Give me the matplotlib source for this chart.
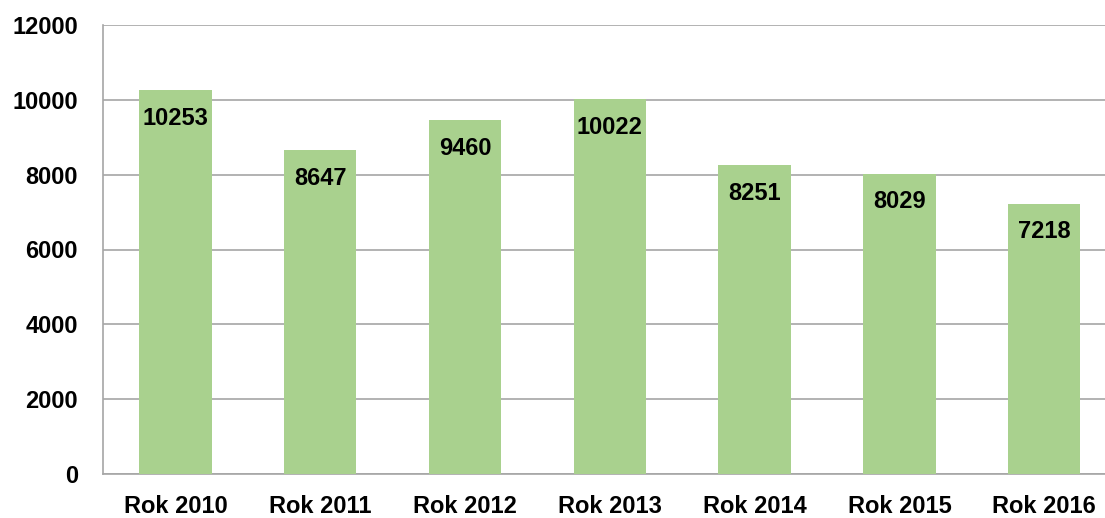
import matplotlib
matplotlib.use("Agg")
import matplotlib.pyplot as plt

categories = ["Rok 2010", "Rok 2011", "Rok 2012", "Rok 2013", "Rok 2014", "Rok 2015", "Rok 2016"]
values = [10253, 8647, 9460, 10022, 8251, 8029, 7218]
yticks = [0, 2000, 4000, 6000, 8000, 10000, 12000]

plt.rcParams['font.family'] = ['Liberation Sans', 'DejaVu Sans']

fig = plt.figure(figsize=(11.05, 5.18), dpi=100)
ax = fig.add_axes([103/1105, 44/518, 1 - 103/1105, (474-25)/518])

x = list(range(len(categories)))
bars = ax.bar(x, values, width=0.5, color="#A9D18E", zorder=3)

ax.set_xlim(-0.5, 6.42)
ax.set_ylim(0, 12000)
ax.set_yticks(yticks)
ax.set_yticklabels([str(t) for t in yticks], fontsize=17, fontweight='bold')
ax.set_xticks(x)
ax.set_xticklabels(categories, fontsize=17, fontweight='bold')
ax.tick_params(axis='both', length=0)
ax.tick_params(axis='y', pad=18)
ax.tick_params(axis='x', pad=15)

ax.yaxis.grid(True, color="#A6A6A6", linewidth=1.2, zorder=0)
for s in ['top', 'right']:
    ax.spines[s].set_visible(False)
for s in ['left', 'bottom']:
    ax.spines[s].set_color("#A6A6A6")
    ax.spines[s].set_linewidth(1.2)

for xi, v in zip(x, values):
    ax.annotate(str(v), xy=(xi, v), xytext=(0, -28), textcoords='offset pixels',
                ha='center', va='center', fontsize=17, fontweight='bold', color='black', zorder=4)

fig.savefig("out.png", dpi=100)
